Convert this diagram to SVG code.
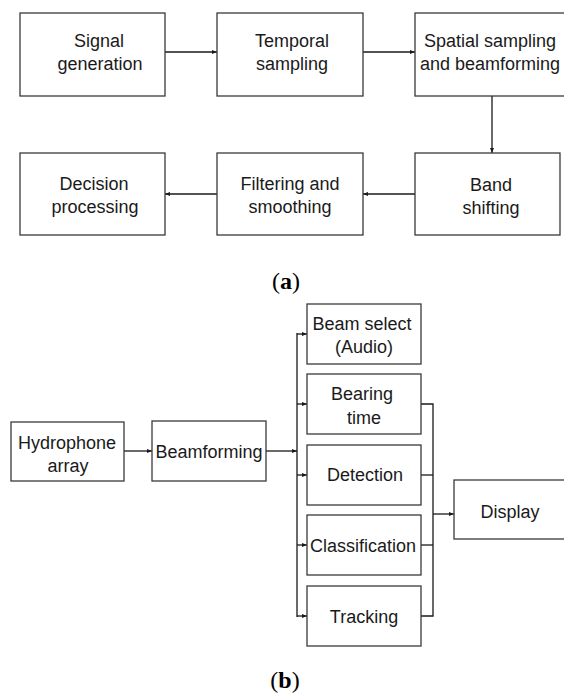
<svg xmlns="http://www.w3.org/2000/svg" width="564" height="693" viewBox="0 0 564 693">
<style>
.box{fill:#ffffff;stroke:#3a3a3a;stroke-width:1.3}
.t{font-family:"Liberation Sans",Arial,sans-serif;font-size:18px;fill:#1a1a1a;text-anchor:middle}
.cap{font-family:"Liberation Serif","Times New Roman",serif;font-size:24px;fill:#000;text-anchor:middle}
.ln{fill:none;stroke:#1a1a1a;stroke-width:1.3}
</style>
<defs>
<marker id="ah" markerWidth="6" markerHeight="6" refX="5" refY="3" orient="auto" markerUnits="userSpaceOnUse">
<path d="M0,1 L5,3 L0,5 Z" fill="#1a1a1a"/>
</marker>
</defs>
<rect width="564" height="693" fill="#ffffff"/>

<g id="connectors">
<line class="ln" x1="165" y1="52" x2="217" y2="52" marker-end="url(#ah)"/>
<line class="ln" x1="363" y1="52" x2="415" y2="52" marker-end="url(#ah)"/>
<line class="ln" x1="492" y1="96" x2="492" y2="153" marker-end="url(#ah)"/>
<line class="ln" x1="415" y1="194" x2="363" y2="194" marker-end="url(#ah)"/>
<line class="ln" x1="217" y1="194" x2="165" y2="194" marker-end="url(#ah)"/>

<line class="ln" x1="124" y1="451" x2="152" y2="451" marker-end="url(#ah)"/>
<line class="ln" x1="266" y1="451" x2="297" y2="451" marker-end="url(#ah)"/>
<line class="ln" x1="297" y1="333" x2="297" y2="617"/>
<line class="ln" x1="297" y1="334" x2="307" y2="334" marker-end="url(#ah)"/>
<line class="ln" x1="297" y1="404" x2="307" y2="404" marker-end="url(#ah)"/>
<line class="ln" x1="297" y1="475" x2="307" y2="475" marker-end="url(#ah)"/>
<line class="ln" x1="297" y1="545" x2="307" y2="545" marker-end="url(#ah)"/>
<line class="ln" x1="297" y1="616" x2="307" y2="616" marker-end="url(#ah)"/>
<polyline class="ln" points="421,404 433,404 433,616 421,616"/>
<line class="ln" x1="421" y1="475" x2="433" y2="475"/>
<line class="ln" x1="421" y1="545" x2="433" y2="545"/>
<line class="ln" x1="433" y1="514" x2="454" y2="514" marker-end="url(#ah)"/>
</g>

<g id="signal-generation">
<rect class="box" x="20" y="13" width="145" height="83"/>
<text class="t" x="99" y="47">Signal</text>
<text class="t" x="100" y="70">generation</text>
</g>
<g id="temporal-sampling">
<rect class="box" x="217" y="13" width="146" height="83"/>
<text class="t" x="292" y="47">Temporal</text>
<text class="t" x="292" y="70">sampling</text>
</g>
<g id="spatial-sampling">
<rect class="box" x="415" y="13" width="152" height="83"/>
<text class="t" x="490" y="47">Spatial sampling</text>
<text class="t" x="490" y="70">and beamforming</text>
</g>
<g id="band-shifting">
<rect class="box" x="415" y="153" width="145" height="82"/>
<text class="t" x="491" y="191">Band</text>
<text class="t" x="491" y="214">shifting</text>
</g>
<g id="filtering-smoothing">
<rect class="box" x="217" y="153" width="146" height="82"/>
<text class="t" x="290" y="190">Filtering and</text>
<text class="t" x="290" y="213">smoothing</text>
</g>
<g id="decision-processing">
<rect class="box" x="20" y="153" width="145" height="82"/>
<text class="t" x="94" y="190">Decision</text>
<text class="t" x="95" y="213">processing</text>
</g>
<g id="caption-a">
<text class="cap" x="286" y="289">(<tspan font-weight="bold">a</tspan>)</text>
</g>

<g id="hydrophone-array">
<rect class="box" x="11" y="422" width="113" height="59"/>
<text class="t" x="67" y="449">Hydrophone</text>
<text class="t" x="68" y="472">array</text>
</g>
<g id="beamforming">
<rect class="box" x="152" y="421" width="114" height="60"/>
<text class="t" x="209" y="458">Beamforming</text>
</g>
<g id="beam-select">
<rect class="box" x="307" y="304" width="114" height="60"/>
<text class="t" x="362" y="330">Beam select</text>
<text class="t" x="364" y="353">(Audio)</text>
</g>
<g id="bearing-time">
<rect class="box" x="307" y="374" width="114" height="60"/>
<text class="t" x="362" y="400">Bearing</text>
<text class="t" x="364" y="424">time</text>
</g>
<g id="detection">
<rect class="box" x="307" y="445" width="114" height="60"/>
<text class="t" x="365" y="481">Detection</text>
</g>
<g id="classification">
<rect class="box" x="307" y="515" width="114" height="60"/>
<text class="t" x="363" y="552">Classification</text>
</g>
<g id="tracking">
<rect class="box" x="307" y="586" width="114" height="60"/>
<text class="t" x="364" y="623">Tracking</text>
</g>
<g id="display">
<rect class="box" x="454" y="480" width="114" height="59"/>
<text class="t" x="510" y="518">Display</text>
</g>
<g id="caption-b">
<text class="cap" x="285" y="688">(<tspan font-weight="bold">b</tspan>)</text>
</g>
</svg>
